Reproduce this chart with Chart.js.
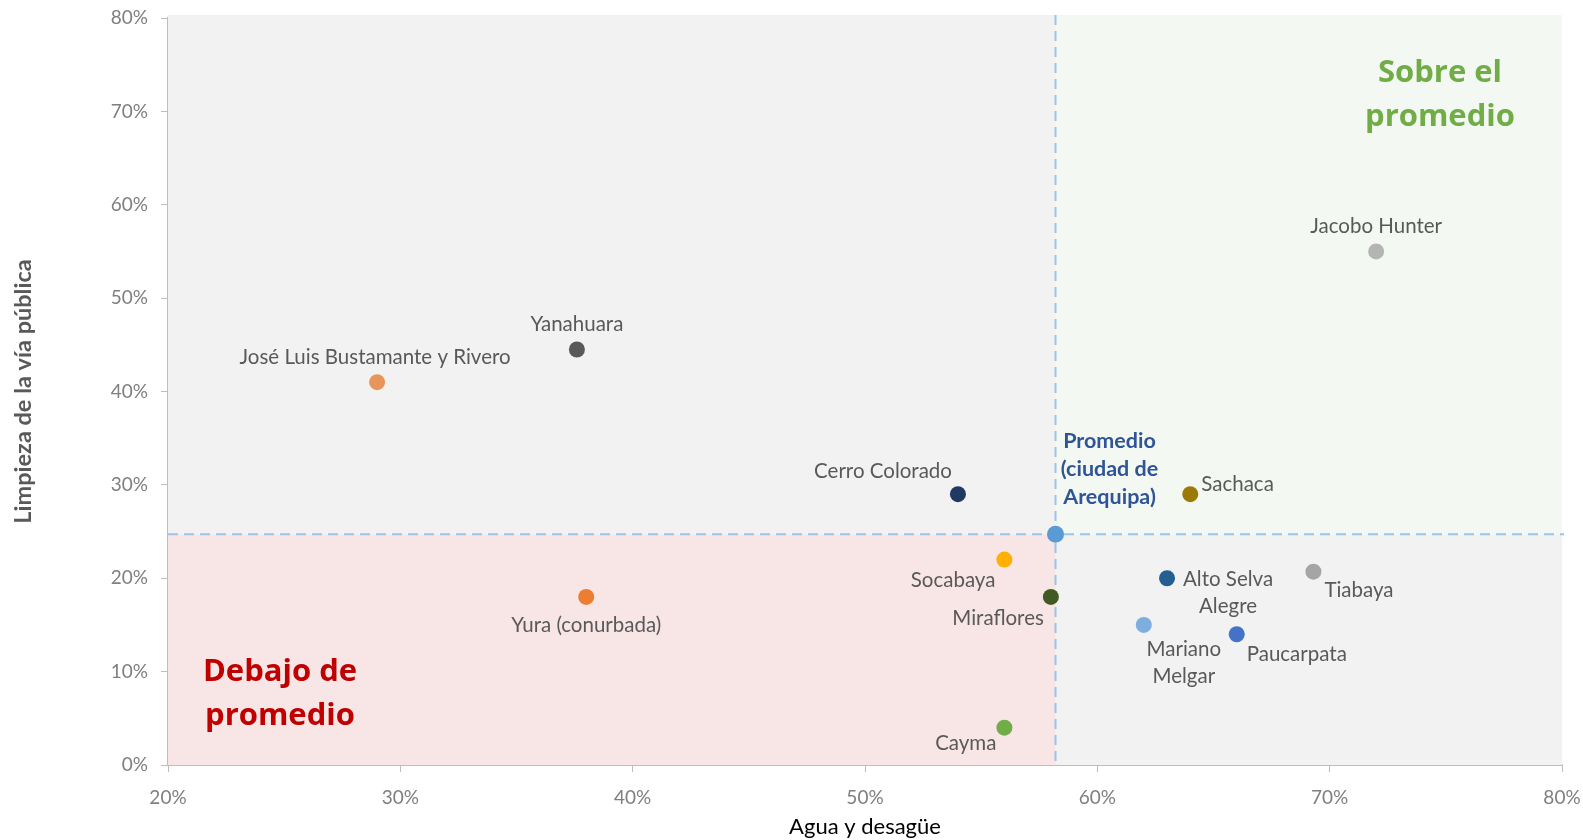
<!DOCTYPE html>
<html>
<head>
<meta charset="utf-8">
<script src="https://cdn.jsdelivr.net/npm/chart.js@4.4.0/dist/chart.umd.min.js"></script>
<style>
  html, body { margin: 0; padding: 0; background: #fff; }
  #wrap { width: 1583px; height: 840px; position: relative; }
</style>
</head>
<body>
<div id="wrap"><canvas id="grafico"></canvas></div>
<script>
// distritos y valores (%)
var distritos = ['Jacobo Hunter', 'Yanahuara', 'José Luis Bustamante y Rivero', 'Cerro Colorado',
  'Sachaca', 'Socabaya', 'Yura (conurbada)', 'Miraflores', 'Alto Selva Alegre', 'Tiabaya',
  'Mariano Melgar', 'Paucarpata', 'Cayma'];
var aguaDesague = [72, 37.6, 29, 54, 64, 56, 38, 58, 63, 69.3, 62, 66, 56];
var limpiezaVia = [55, 44.5, 41, 29, 29, 22, 18, 18, 20, 20.7, 15, 14, 4];
var promedioAgua = 58.2;
var promedioLimpieza = 24.7;
var ticksX = [20, 30, 40, 50, 60, 70, 80];
var ticksY = [0, 10, 20, 30, 40, 50, 60, 70, 80];

var colores = ['#b4b4b4', '#595959', '#e8955c', '#203864', '#9c7a08', '#ffb000', '#ed7d31',
  '#3f5a22', '#255e91', '#a5a5a5', '#7eaedd', '#4472c4', '#70ad47'];

// donde va cada etiqueta respecto a su punto
var etiquetas = {
  'Jacobo Hunter': {dx: 0, dy: -25, align: 'center'},
  'Yanahuara': {dx: 0, dy: -25, align: 'center'},
  'José Luis Bustamante y Rivero': {dx: -2, dy: -25, align: 'center'},
  'Cerro Colorado': {dx: -6, dy: -23, align: 'right'},
  'Sachaca': {dx: 11, dy: -10, align: 'left'},
  'Socabaya': {dx: -9, dy: 21, align: 'right'},
  'Yura (conurbada)': {dx: 0, dy: 28, align: 'center'},
  'Miraflores': {dx: -7, dy: 21, align: 'right'},
  'Alto Selva Alegre': {dx: 61, dy: 1, align: 'center', lines: ['Alto Selva', 'Alegre']},
  'Tiabaya': {dx: 11, dy: 19, align: 'left'},
  'Mariano Melgar': {dx: 40, dy: 24, align: 'center', lines: ['Mariano', 'Melgar']},
  'Paucarpata': {dx: 10, dy: 20, align: 'left'},
  'Cayma': {dx: -8, dy: 16, align: 'right'}
};

var puntos = [];
for (var i in distritos) {
  puntos.push({x: aguaDesague[i], y: limpiezaVia[i], nombre: distritos[i]});
}

var fuente = 'Lato, "Open Sans", sans-serif';
var fuenteTitulo = '"Open Sans", "Noto Sans", sans-serif';

var cuadrantes = {
  id: 'cuadrantes',
  beforeDatasetsDraw: function(chart) {
    var ctx = chart.ctx, a = chart.chartArea;
    var sx = chart.scales.x, sy = chart.scales.y;
    var px = sx.getPixelForValue(promedioAgua);
    var py = sy.getPixelForValue(promedioLimpieza);
    ctx.save();
    ctx.fillStyle = '#f2f2f2';
    ctx.fillRect(a.left, a.top - 3, a.right - a.left, a.bottom - a.top + 3);
    ctx.fillStyle = '#f4f8f2';
    ctx.fillRect(px, a.top - 3, a.right - px, py - a.top + 3);
    ctx.fillStyle = '#f8e5e6';
    ctx.fillRect(a.left, py, px - a.left, a.bottom - py);

    ctx.strokeStyle = '#9dc3e6';
    ctx.lineWidth = 2;
    ctx.setLineDash([10, 6]);
    ctx.beginPath();
    ctx.moveTo(px, a.top - 3);
    ctx.lineTo(px, a.bottom);
    ctx.moveTo(a.left, py);
    ctx.lineTo(a.right + 2, py);
    ctx.stroke();
    ctx.setLineDash([]);

    ctx.textAlign = 'center';
    ctx.textBaseline = 'middle';
    ctx.font = 'bold 31px ' + fuenteTitulo;
    ctx.fillStyle = '#70ad47';
    ctx.fillText('Sobre el', 1440, 73);
    ctx.fillText('promedio', 1440, 117);
    ctx.fillStyle = '#c00000';
    ctx.fillText('Debajo de', 280, 672);
    ctx.fillText('promedio', 280, 716);
    ctx.restore();
  },
  afterDatasetsDraw: function(chart) {
    var ctx = chart.ctx;
    var sx = chart.scales.x, sy = chart.scales.y;
    ctx.save();
    ctx.textBaseline = 'middle';
    ctx.font = '20.5px ' + fuente;
    ctx.fillStyle = '#595959';
    puntos.forEach(function(p) {
      var e = etiquetas[p.nombre];
      var x = sx.getPixelForValue(p.x) + e.dx;
      var y = sy.getPixelForValue(p.y) + e.dy;
      var lineas = e.lines || [p.nombre];
      ctx.textAlign = e.align;
      lineas.forEach(function(l, k) {
        ctx.fillText(l, x, y + k * 27);
      });
    });
    var qx = sx.getPixelForValue(promedioAgua) + 54;
    var qy = sy.getPixelForValue(promedioLimpieza);
    ctx.font = 'bold 21.5px ' + fuente;
    ctx.fillStyle = '#2f5597';
    ctx.textAlign = 'center';
    ctx.fillText('Promedio', qx, qy - 93);
    ctx.fillText('(ciudad de', qx, qy - 65);
    ctx.fillText('Arequipa)', qx, qy - 37);
    ctx.restore();
  }
};

var ctx = document.getElementById('grafico');
var grafico = new Chart(ctx, {
  type: 'scatter',
  data: {
    datasets: [{
      label: 'Distritos',
      data: puntos,
      backgroundColor: colores,
      borderWidth: 0,
      pointRadius: 8,
      pointHoverRadius: 8
    }, {
      label: 'Promedio (ciudad de Arequipa)',
      data: [{x: promedioAgua, y: promedioLimpieza}],
      backgroundColor: '#5b9bd5',
      borderWidth: 0,
      pointRadius: 8.5
    }]
  },
  options: {
    responsive: true,
    maintainAspectRatio: false,
    animation: false,
    layout: {padding: {top: 18, right: 21, left: 0, bottom: 0}},
    plugins: {
      legend: {display: false},
      tooltip: {enabled: false}
    },
    scales: {
      x: {
        type: 'linear',
        min: 20, max: 80,
        afterBuildTicks: function(s) { s.ticks = ticksX.map(function(v) { return {value: v}; }); },
        afterFit: function(s) { s.height = 75; s.paddingLeft = 0; s.paddingRight = 0; },
        ticks: {
          callback: function(v) { return v + '%'; },
          color: '#7f7f7f',
          font: {family: fuente, size: 19},
          padding: 14
        },
        grid: {drawOnChartArea: false, drawTicks: true, tickLength: 7, color: '#c4bcbc'},
        border: {color: '#c4bcbc', width: 2},
        title: {
          display: true,
          text: 'Agua y desagüe',
          color: '#000',
          font: {family: fuente, size: 22},
          padding: {top: 0, bottom: 0}
        }
      },
      y: {
        type: 'linear',
        min: 0, max: 80,
        afterBuildTicks: function(s) { s.ticks = ticksY.map(function(v) { return {value: v}; }); },
        afterFit: function(s) { s.width = 168; s.paddingTop = 0; s.paddingBottom = 0; },
        ticks: {
          callback: function(v) { return v + '%'; },
          color: '#7f7f7f',
          font: {family: fuente, size: 19},
          padding: 13
        },
        grid: {drawOnChartArea: false, drawTicks: true, tickLength: 7, color: '#c4bcbc'},
        border: {color: '#c4bcbc', width: 2},
        title: {
          display: true,
          text: 'Limpieza de la vía pública',
          color: '#595959',
          font: {family: fuente, size: 23.5, weight: 'bold'},
          padding: {top: 9, bottom: 0}
        }
      }
    }
  },
  plugins: [cuadrantes]
});
</script>
</body>
</html>
